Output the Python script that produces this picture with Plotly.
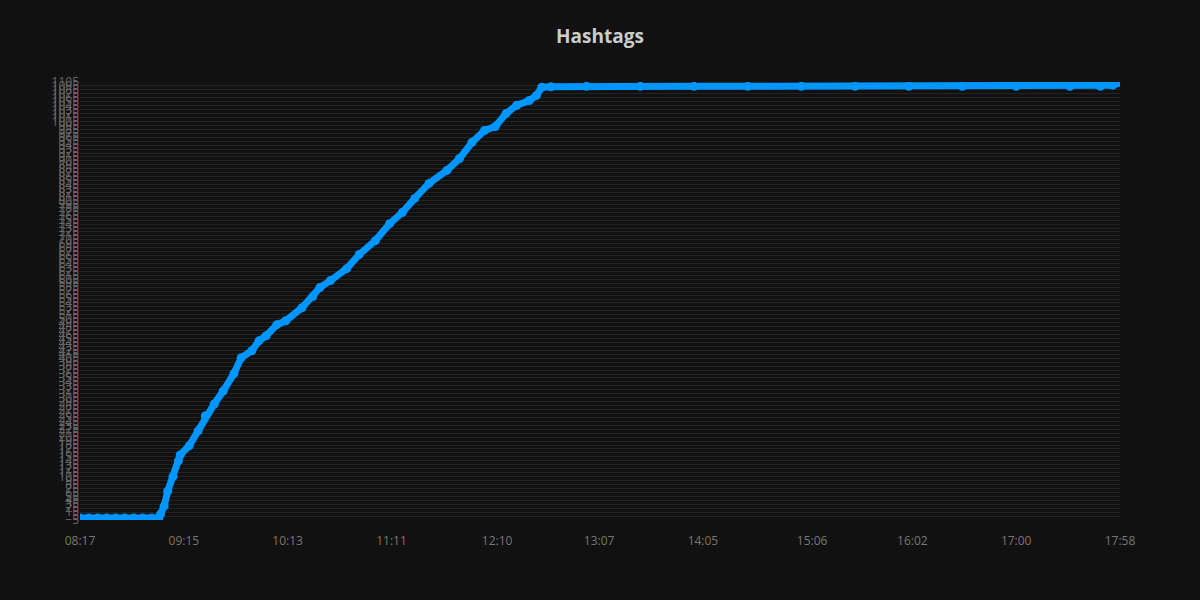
import plotly.graph_objects as go

day = "2024-01-01 "
times = ["08:17", "08:22", "08:27", "08:32", "08:37", "08:42", "08:47", "08:52", "08:57", "09:01",
         "09:02", "09:04", "09:06", "09:09", "09:12", "09:13", "09:18", "09:23", "09:27", "09:32",
         "09:37", "09:43", "09:47", "09:53", "09:57", "10:01", "10:07", "10:12", "10:21", "10:27",
         "10:31", "10:37", "10:46", "10:53", "11:02", "11:10", "11:17", "11:24", "11:32", "11:42",
         "11:49", "11:56", "12:03", "12:09", "12:15", "12:21", "12:28", "12:32", "12:35", "12:40",
         "13:00", "13:30", "14:00", "14:30", "15:00", "15:30", "16:00", "16:30", "17:00", "17:30",
         "17:47", "17:54", "17:58"]
counts = [0, 0, 0, 0, 0, 0, 0, 0, 0, 0,
          10, 30, 68, 106, 145, 160, 183, 221, 259, 289,
          322, 366, 406, 424, 449, 462, 490, 500, 533, 561,
          584, 602, 632, 668, 703, 746, 774, 810, 848, 881,
          911, 952, 982, 992, 1025, 1046, 1058, 1071, 1092, 1093,
          1094, 1094, 1094, 1094, 1094, 1094, 1094, 1094, 1094, 1094,
          1094, 1097, 1104]
tick_labels = ["08:17", "09:15", "10:13", "11:11", "12:10", "13:07",
               "14:05", "15:06", "16:02", "17:00", "17:58"]

x = [day + t for t in times]

fig = go.Figure()
fig.add_trace(go.Scatter(
    x=x, y=counts, mode="lines+markers",
    line=dict(color="#0096ff", width=7),
    marker=dict(color="#0096ff", size=9),
    showlegend=False,
))

fig.update_layout(
    width=1200, height=600,
    paper_bgcolor="#111111", plot_bgcolor="#111111",
    margin=dict(l=80, r=80, t=82, b=80),
    title=dict(text="<b>Hashtags</b>", x=0.5, xanchor="center", y=0.94, yanchor="middle",
               font=dict(family="Open Sans, Noto Sans, sans-serif", size=19, color="#cccccc")),
    font=dict(family="Open Sans, Noto Sans, sans-serif", color="#777777", size=12),
)
fig.update_xaxes(
    type="date",
    range=[x[0], x[-1]],
    tickvals=[day + t for t in tick_labels],
    ticktext=tick_labels,
    showgrid=False, zeroline=False, showline=False,
    ticks="outside", ticklen=10, tickcolor="rgba(0,0,0,0)",
    tickfont=dict(color="#777777", size=12),
)
fig.update_yaxes(
    range=[-5, 1105],
    tick0=-5, dtick=10,
    gridcolor="#232323", gridwidth=1,
    zeroline=False, showline=False,
    tickfont=dict(color="#666666", size=12),
)

fig.write_html("out.html", config={"displayModeBar": False},
               post_script="document.body.style.margin='0';")
